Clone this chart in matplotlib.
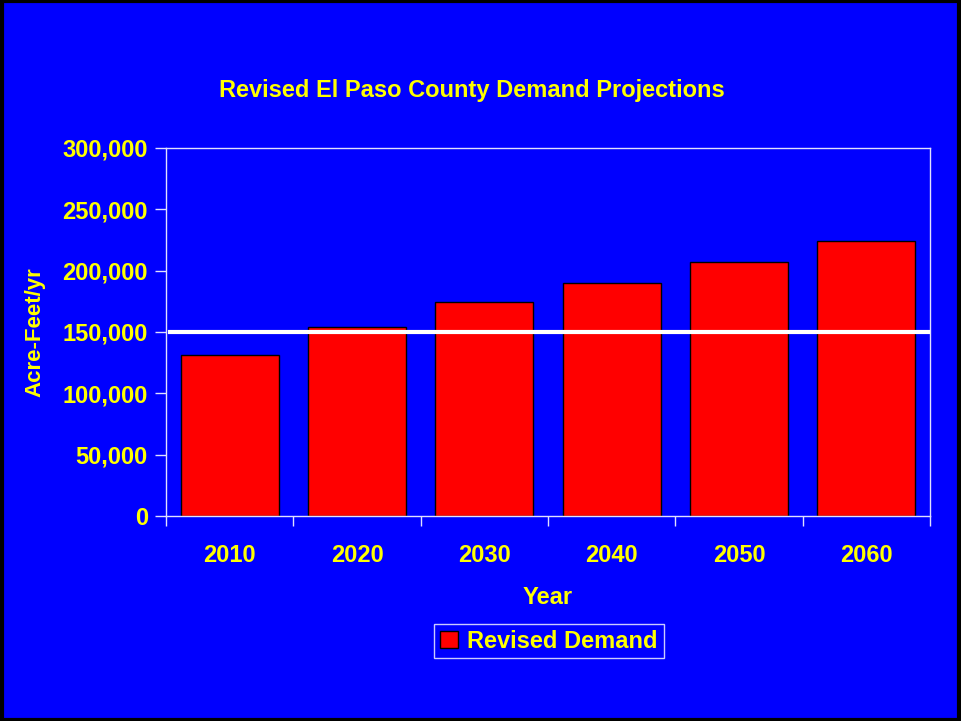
import numpy as np
import matplotlib
matplotlib.use("Agg")
import matplotlib.pyplot as plt
from matplotlib.patches import Rectangle

plt.rcParams['font.family'] = ['Liberation Sans', 'DejaVu Sans']
plt.rcParams['font.weight'] = 'bold'

# data
years = ['2010', '2020', '2030', '2040', '2050', '2060']
demand = [131000, 154000, 174500, 190000, 207000, 224000]
reference_level = 150000

blue = '#0000FF'
yellow = '#FFFF00'
frame = '#E0E0FF'

fig = plt.figure(figsize=(9.61, 7.21), dpi=100, facecolor=blue)
ax = fig.add_axes([166/961, 1 - 516/721, 764/961, 368/721])
ax.set_facecolor(blue)

x = np.arange(len(years))
ax.bar(x, demand, width=0.77, color='#FF0000', edgecolor='black', linewidth=1,
       label='Revised Demand', zorder=2)
ax.plot([-0.47, 5.5], [reference_level, reference_level], color='white', linewidth=3, zorder=3)

ax.set_xlim(-0.5, 5.5)
ax.set_ylim(0, 300000)
ax.set_yticks(np.arange(0, 300001, 50000))
ax.set_yticklabels([f'{v:,}' for v in range(0, 300001, 50000)])
ax.set_xticks(np.arange(-0.5, 6, 1))
ax.set_xticklabels([])
ax.set_xticks(x, minor=True)
ax.set_xticklabels(years, minor=True)

ax.tick_params(axis='y', direction='out', length=8, width=1, color=frame,
               labelcolor=yellow, labelsize=17, pad=5)
ax.tick_params(axis='x', which='major', direction='out', length=7, width=1, color=frame)
ax.tick_params(axis='x', which='minor', length=0, labelcolor=yellow, labelsize=17, pad=20)
for s in ax.spines.values():
    s.set_color(frame)
    s.set_linewidth(1)

ax.set_xlabel('Year', color=yellow, fontsize=17, fontweight='bold', labelpad=14)
ax.set_ylabel('Acre-Feet/yr', color=yellow, fontsize=16, fontweight='bold', labelpad=12)
fig.text(472/961, 1 - 90/721, 'Revised El Paso County Demand Projections',
         color=yellow, fontsize=17, fontweight='bold', ha='center', va='center')

leg = fig.legend(loc='center', bbox_to_anchor=(549/961, 1 - 641/721), fontsize=17,
                 frameon=True, fancybox=False, facecolor=blue, edgecolor='white',
                 handlelength=0.75, handleheight=0.75, handletextpad=0.4,
                 borderpad=0.25, borderaxespad=0)
for t in leg.get_texts():
    t.set_color(yellow)
leg.get_frame().set_linewidth(1)

# black border around the slide
fig.patches.append(Rectangle((0.002, 0.002), 0.996, 0.996, transform=fig.transFigure,
                             fill=False, edgecolor='black', linewidth=3))

fig.savefig('out.png', dpi=100, facecolor=blue)
